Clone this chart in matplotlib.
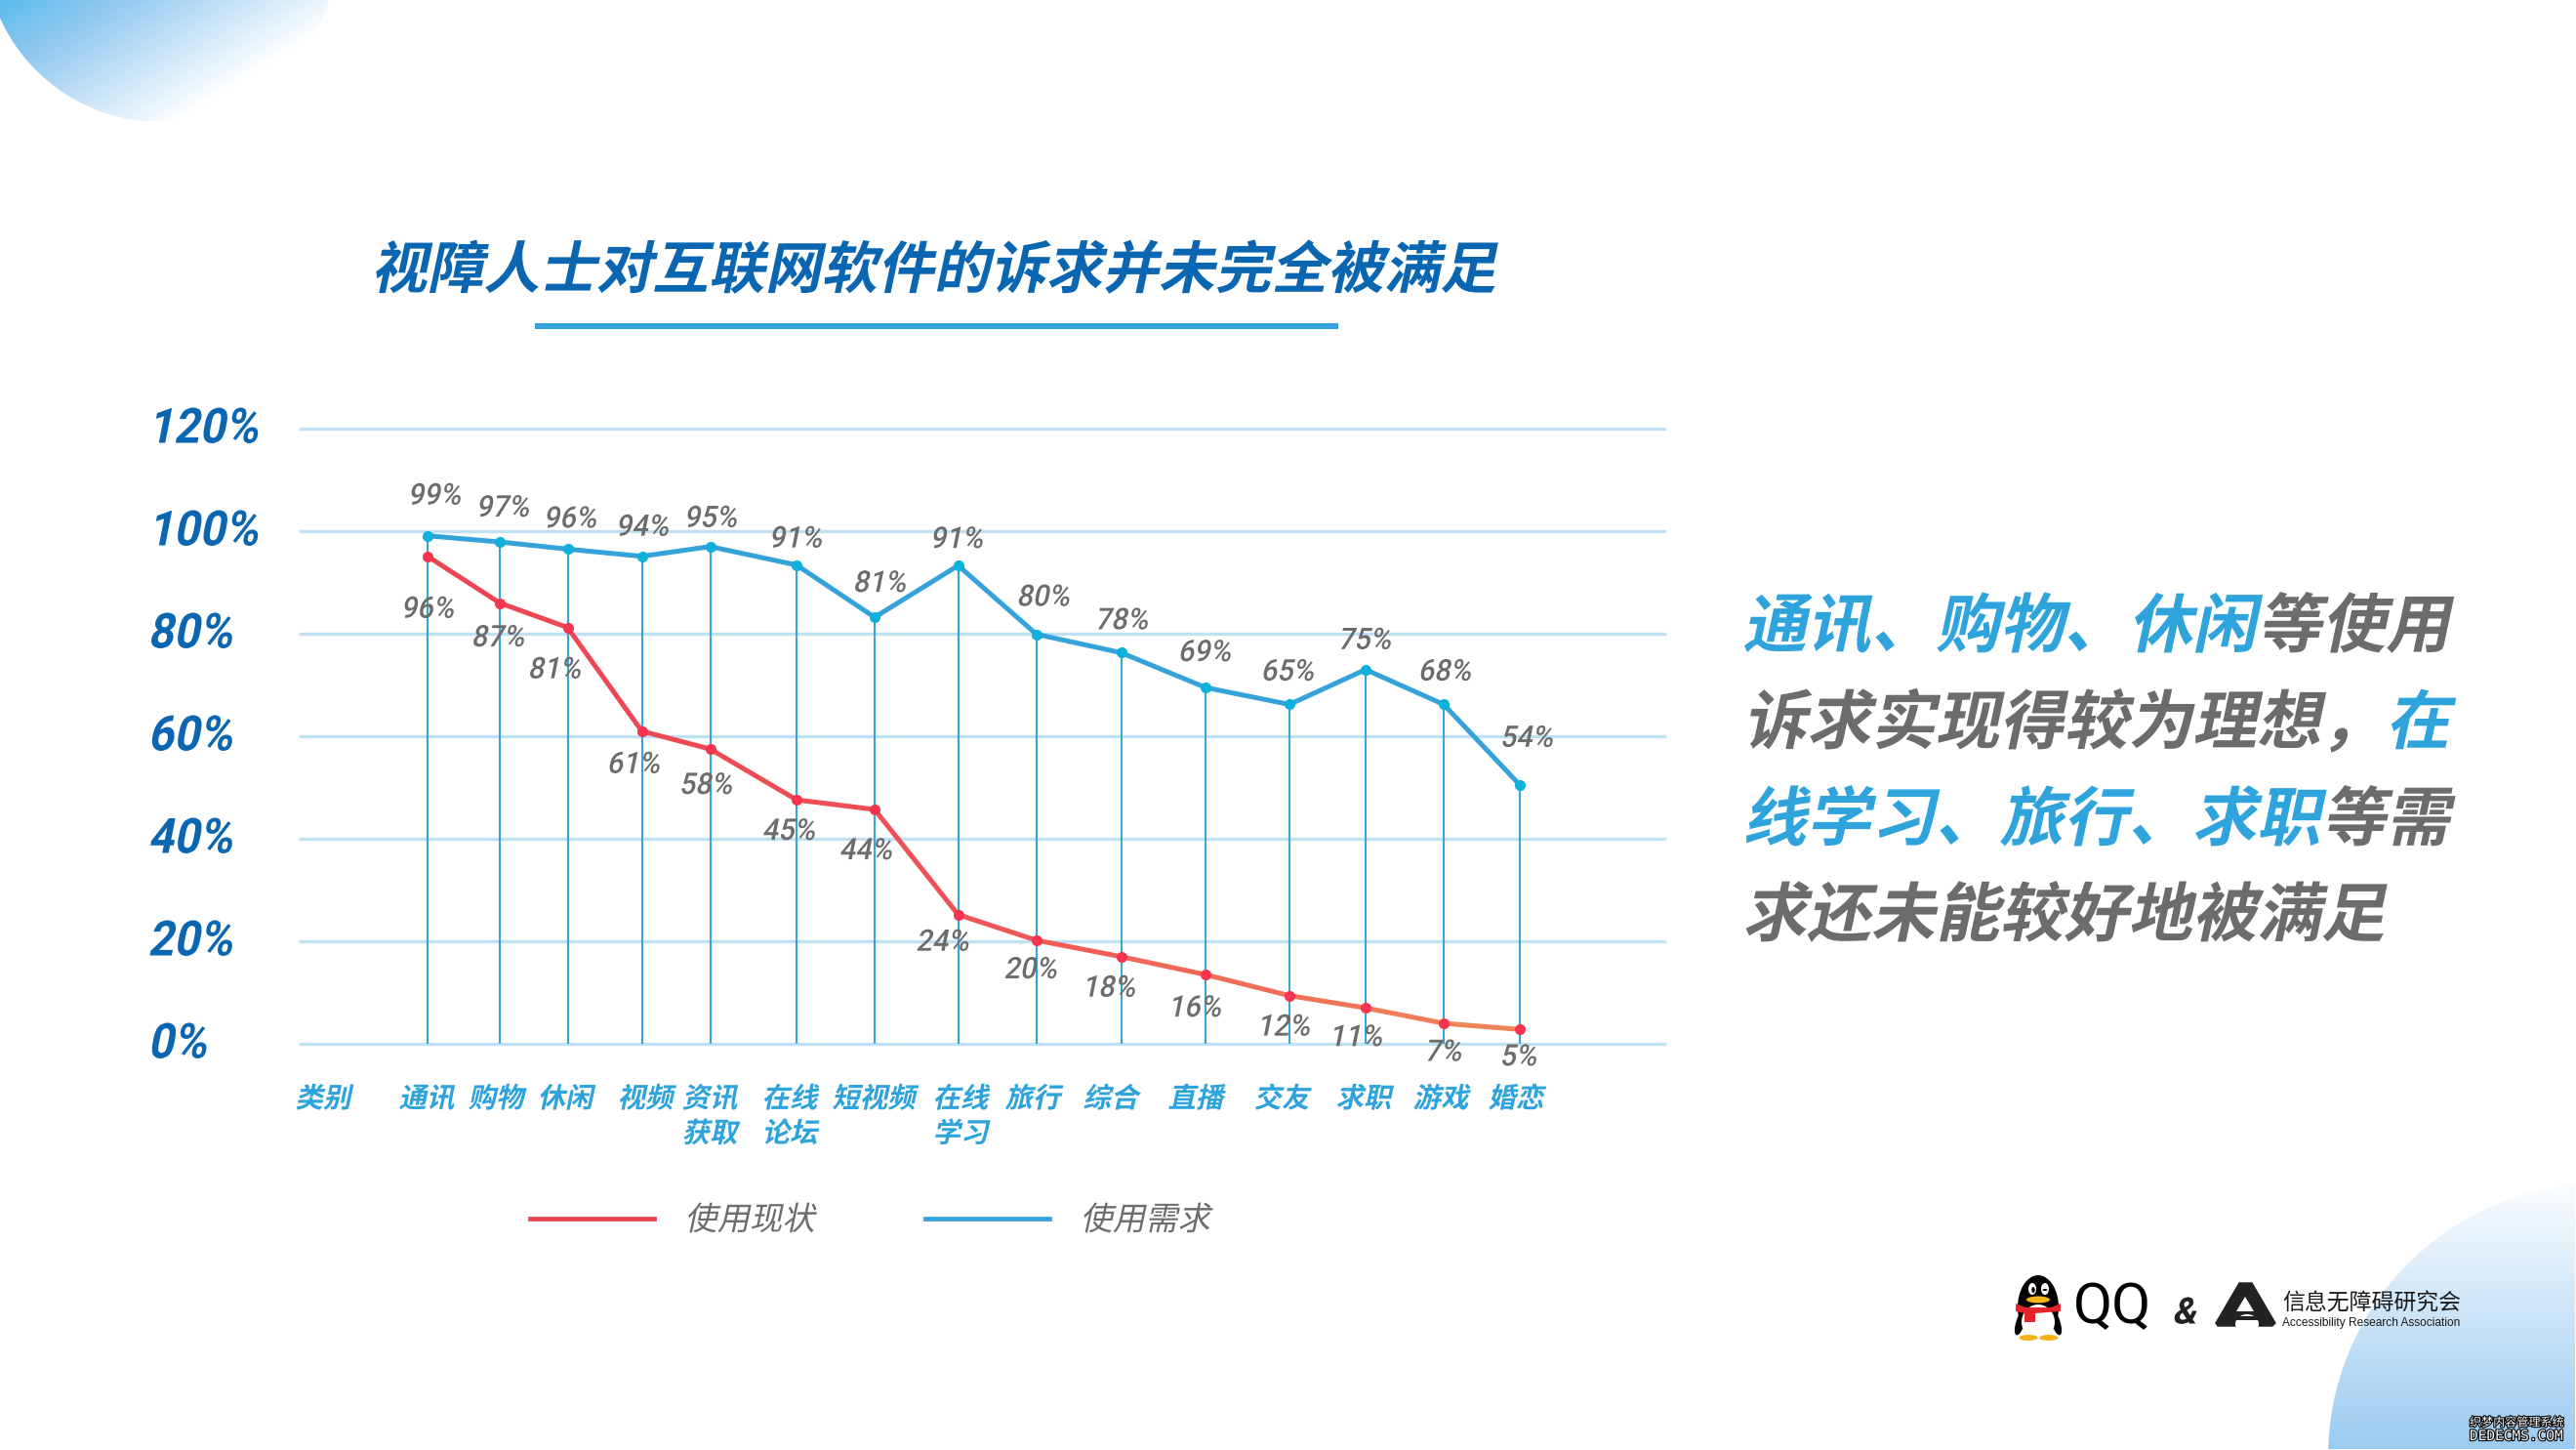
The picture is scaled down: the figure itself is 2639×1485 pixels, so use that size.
#!/usr/bin/env python3
"""Slide: unmet software needs of visually impaired users (line chart + decoration)."""

import numpy as np
import matplotlib
matplotlib.use("Agg")
import matplotlib.pyplot as plt
from matplotlib.collections import LineCollection
from matplotlib.colors import LinearSegmentedColormap
from matplotlib.lines import Line2D
from matplotlib.patches import Circle, Ellipse, Polygon, Rectangle
from matplotlib.patheffects import AbstractPathEffect, withStroke
from matplotlib.transforms import Affine2D

W, H = 2639, 1485
CJK = ["Noto Sans CJK SC", "DejaVu Sans"]
NUM = ["Roboto", "DejaVu Sans"]
DARK_BLUE = "#0B66B2"
BLUE = "#2FA3DB"
GREY = "#6C6C6C"

categories = ["通讯", "购物", "休闲", "视频", "资讯\n获取", "在线\n论坛", "短视频", "在线\n学习",
              "旅行", "综合", "直播", "交友", "求职", "游戏", "婚恋"]
# plotted heights differ slightly from the printed labels in the source slide
need_values = [99.1, 97.9, 96.5, 95.1, 97.0, 93.4, 83.2, 93.3, 79.9, 76.3, 69.5, 66.2, 73.0, 66.2, 50.5]
status_values = [95.1, 86.0, 81.2, 61.0, 57.5, 47.6, 45.7, 25.2, 20.2, 17.0, 13.5, 9.4, 7.0, 4.0, 2.8]
need_labels = [99, 97, 96, 94, 95, 91, 81, 91, 80, 78, 69, 65, 75, 68, 54]
status_labels = [96, 87, 81, 61, 58, 45, 44, 24, 20, 18, 16, 12, 11, 7, 5]
y_ticks = [0, 20, 40, 60, 80, 100, 120]

# layout, in slide pixels (categories are unevenly spaced in the source)
x_pos = [438, 512, 581.5, 657.5, 727.5, 816, 896, 981.6, 1061.7, 1148.5, 1235, 1321, 1399, 1479, 1557]
cat_label_x = [437, 508, 579, 661, 727, 809, 895, 984, 1058, 1138, 1225, 1313, 1397, 1476, 1553]
need_off = [(8, 40.5), (4, 34.5), (3.5, 30.5), (1.5, 29.5), (1.5, 28.5), (0, 26.5), (6, 34.5), (-0.6, 26.5),
            (8, 37.5), (1.5, 32.5), (0, 35.5), (-1, 33), (0, 29.5), (2, 33), (8, 47.5)]
status_off = [(1, -54.5), (-1, -36), (-12.5, -43.5), (-7.5, -34.5), (-3.5, -37.5), (-7, -32.5), (-8, -42.5),
              (-15, -28.5), (-5, -30.5), (-11.5, -32.5), (-10, -34.5), (-5, -32.5), (-9, -30.5), (0, -30), (-1, -28.5)]


class Slant(AbstractPathEffect):
    """Fake italics (the CJK fonts have no oblique face), with optional squeeze and lift."""

    def __init__(self, deg=12, sx=1.0, dy=0.0):
        super().__init__()
        self.deg = deg
        self.sx = sx
        self.dy = dy

    def draw_path(self, renderer, gc, tpath, affine, rgbFace=None):
        t = Affine2D().skew_deg(self.deg, 0).scale(self.sx, 1) + affine + Affine2D().translate(0, self.dy)
        renderer.draw_path(gc, tpath, t, rgbFace)


SLANT = [Slant()]

fig = plt.figure(figsize=(W / 100, H / 100), dpi=100, facecolor="white")

# --- slide background layer, in pixel coordinates
bg = fig.add_axes([0, 0, 1, 1], zorder=0)
bg.axis("off")


def gradient_circle(cx, cy, r, t_func, cmap):
    xs = np.arange(max(cx - r, 0), min(cx + r, W), 1.0)
    ys = np.arange(max(cy - r, 0), min(cy + r, H), 1.0)
    gx, gy = np.meshgrid(xs, ys)
    im = bg.imshow(t_func(gx, gy), cmap=cmap, vmin=0, vmax=1, aspect="auto", origin="upper",
                   extent=(xs[0], xs[-1], ys[-1], ys[0]), zorder=0)
    clip = Circle((cx, cy), r, transform=bg.transData, fc="none", ec="none")
    bg.add_patch(clip)
    im.set_clip_path(clip)


top_cmap = LinearSegmentedColormap.from_list("top", [(0, "#5DBBEC"), (0.35, "#97CBF0"), (1, "#FFFFFF")])
low_cmap = LinearSegmentedColormap.from_list("low", ["#FFFFFF", "#9CCBF0"])
gradient_circle(165, -56, 181, lambda x, y: x / 380 + y / 240, top_cmap)
gradient_circle(2665, 1492, 280, lambda x, y: (y - 1200) / 285, low_cmap)
bg.set_xlim(0, W)
bg.set_ylim(H, 0)

# title
bg.text(380, 278, "视障人士对互联网软件的诉求并未完全被满足", family=CJK, weight="bold", fontsize=41.5,
        color=DARK_BLUE, va="center", ha="left", path_effects=SLANT)
bg.add_patch(Rectangle((548, 331), 823, 6, fc="#35A3DC", ec="none"))

# right hand text
text_lines = [
    [("通讯、购物、休闲", BLUE), ("等使用", GREY)],
    [("诉求实现得较为理想，", GREY), ("在", BLUE)],
    [("线学习、旅行、求职", BLUE), ("等需", GREY)],
    [("求还未能较好地被满足", GREY)],
]
line_y = [643, 742, 841, 939]
char_w = 65.9
for runs, y in zip(text_lines, line_y):
    x = 1785
    for s, c in runs:
        bg.text(x, y, s, family=CJK, weight="bold", fontsize=47.4, color=c, va="center", ha="left",
                path_effects=SLANT)
        x += char_w * len(s)

# QQ penguin
bg.add_patch(Ellipse((2070, 1354), 9, 28, angle=18, fc="black", zorder=3))
bg.add_patch(Ellipse((2106, 1354), 9, 28, angle=-18, fc="black", zorder=3))
bg.add_patch(Ellipse((2088, 1339), 42, 66, fc="black", zorder=3))
bg.add_patch(Ellipse((2088, 1354), 34, 36, fc="white", zorder=4))
bg.add_patch(Ellipse((2078, 1370), 19, 6, fc="#F5B21B", zorder=5))
bg.add_patch(Ellipse((2099, 1370), 19, 6, fc="#F5B21B", zorder=5))
bg.add_patch(Ellipse((2082, 1320), 8, 12, fc="white", zorder=5))
bg.add_patch(Ellipse((2095, 1320), 8, 12, fc="white", zorder=5))
bg.add_patch(Ellipse((2083, 1321), 3.5, 6, fc="black", zorder=6))
bg.add_patch(Ellipse((2095, 1321), 5, 2, fc="black", zorder=6))
bg.add_patch(Ellipse((2088, 1331), 24, 7, fc="#F5B21B", zorder=6))
bg.add_patch(Polygon([(2065, 1335), (2075, 1339), (2101, 1339), (2111, 1335), (2111, 1343),
                      (2085, 1345), (2085, 1354), (2074, 1354), (2074, 1345), (2065, 1343)],
                     closed=True, fc="#E5232A", zorder=7))

bg.text(2124, 1340, "QQ", family=NUM, fontsize=42, color="black", va="center", ha="left")
bg.text(2225, 1345, "&", family=NUM, fontsize=27, color="#222222", va="center", ha="left", weight="bold",
        path_effects=SLANT)

# association logo
bg.add_patch(Polygon([(2294, 1314), (2307, 1314), (2331, 1355), (2328, 1358), (2272, 1358), (2270, 1355)],
                     closed=True, fc="#222222", ec="#222222", lw=1))
bg.add_patch(Polygon([(2300, 1328), (2291, 1343), (2309, 1343)], closed=True, fc="white"))
bg.add_patch(Ellipse((2302, 1356), 24, 20, fc="white"))
bg.add_patch(Polygon([(2290, 1348), (2314, 1348), (2315, 1352), (2288, 1352)], closed=True, fc="#222222"))
bg.text(2338, 1335, "信息无障碍研究会", family=CJK, fontsize=16.5, color="#1A1A1A", va="center", ha="left")
bg.text(2338, 1355, "Accessibility Research Association", family=["Liberation Sans"], fontsize=8.6,
        color="#1A1A1A", va="center", ha="left")

# site watermark
outline = [withStroke(linewidth=1.6, foreground="black")]
bg.text(2530, 1457, "织梦内容管理系统", family=CJK, fontsize=8.7, color="white", va="center", ha="left",
        path_effects=outline)
bg.text(2530, 1471, "DEDECMS.COM", family=["DejaVu Sans Mono"], fontsize=10.4, color="white", va="center",
        ha="left", path_effects=outline)

# --- chart layer: axes frame sits exactly on the grid rectangle
left, right, top, bottom = 307.5, 1705, 439, 1069
ax = fig.add_axes([left / W, 1 - bottom / H, (right - left) / W, (bottom - top) / H], zorder=2)
ax.patch.set_alpha(0)
ax.set_xlim(left, right)
ax.set_ylim(0, 120)
for s in ax.spines.values():
    s.set_visible(False)

ax.set_yticks(y_ticks, [f"{v}%" for v in y_ticks])
ax.yaxis.grid(True, color="#BFE1F3", lw=2.4)
for g in ax.get_ygridlines():
    g.set_clip_on(False)
ax.tick_params(axis="y", length=0, pad=112.5)
for lab in ax.get_yticklabels():
    lab.set(ha="left", family=NUM, weight="bold", fontsize=36, color=DARK_BLUE,
            path_effects=[Slant(12, sx=0.92, dy=4)])

ax.set_xticks([331] + cat_label_x, ["类别"] + categories)
ax.tick_params(axis="x", length=0, pad=31)
for lab in ax.get_xticklabels():
    lab.set(family=CJK, fontsize=20.5, color=BLUE, linespacing=1.35, path_effects=SLANT, weight="bold")

ax.vlines(x_pos, 0, need_values, color="#38A4D8", lw=1.5, zorder=2)

ax.plot(x_pos, need_values, color="#35A3D9", lw=3.6, zorder=3, solid_joinstyle="miter")
ax.plot(x_pos, need_values, ls="none", marker="o", ms=8, mfc="#0EB0DC", mec="none", zorder=4)

# status line fades from red to orange towards the right
pts = np.column_stack([x_pos, status_values])
segs = np.stack([pts[:-1], pts[1:]], axis=1)
seg_cmap = LinearSegmentedColormap.from_list("seg", [(0, "#EE4553"), (0.45, "#EE4F55"), (1, "#F08458")])
ax.add_collection(LineCollection(segs, colors=seg_cmap(np.linspace(0, 1, len(segs))), linewidths=3.6,
                                 zorder=3, capstyle="round"))
ax.plot(x_pos, status_values, ls="none", marker="o", ms=8, mfc="#F5344F", mec="none", zorder=4)

for x, v, lab, off in zip(x_pos, need_values, need_labels, need_off):
    ax.annotate(f"{lab}%", (x, v), xytext=off, textcoords="offset pixels", ha="center", va="center",
                family=NUM, fontsize=22, weight="medium", color=GREY, path_effects=[Slant(12, sx=0.95)], zorder=5)
for x, v, lab, off in zip(x_pos, status_values, status_labels, status_off):
    ax.annotate(f"{lab}%", (x, v), xytext=off, textcoords="offset pixels", ha="center", va="center",
                family=NUM, fontsize=22, weight="medium", color=GREY, path_effects=[Slant(12, sx=0.95)], zorder=5,
                annotation_clip=False)

handles = [Line2D([], [], color="#E9444E", lw=3.4), Line2D([], [], color="#35A3D9", lw=3.4)]
leg = ax.legend(handles, ["使用现状", "使用需求"], ncol=2, frameon=False, loc="center left",
                bbox_to_anchor=(543 / W, 1 - 1250 / H), bbox_transform=fig.transFigure,
                prop={"family": CJK, "size": 24, "weight": "medium"}, borderpad=0, borderaxespad=0,
                handlelength=3.8, handletextpad=0.95, columnspacing=3.4)
for t in leg.get_texts():
    t.set_color(GREY)
    t.set_path_effects(SLANT)

fig.savefig("out.png", dpi=100, facecolor="white")
plt.close(fig)
